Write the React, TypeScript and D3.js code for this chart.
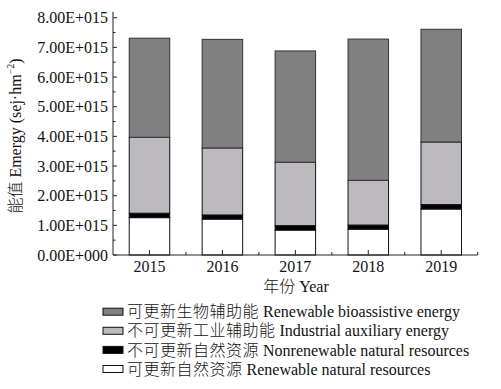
import React from "react";
import * as d3 from "d3";

// values in 1e15 sej/hm^2
const years = [2015, 2016, 2017, 2018, 2019];
const renewableNatural = [1.26, 1.21, 0.84, 0.87, 1.55];
const nonrenewableNatural = [0.15, 0.14, 0.15, 0.14, 0.15];
const industrialAux = [2.56, 2.26, 2.14, 1.51, 2.11];
const bioAssistive = [3.34, 3.66, 3.75, 4.76, 3.8];

const seriesKeys = ["rn", "nn", "ia", "ba"];
const seriesFill = ["#ffffff", "#000000", "#bcbabe", "#808080"];
const legendZh = ["可更新生物辅助能", "不可更新工业辅助能", "不可更新自然资源", "可更新自然资源"];
const legendEn = [
  "Renewable bioassistive energy",
  "Industrial auxiliary energy",
  "Nonrenewable natural resources",
  "Renewable natural resources",
];
const legendFill = ["#808080", "#bcbabe", "#000000", "#ffffff"];
const yTicks = d3.range(0, 8.01, 1);
const yMinor = d3.range(0.5, 8.1, 1);

const font = "'Liberation Serif', 'Times New Roman', 'Noto Sans CJK SC', serif";
const cjk = "'Noto Sans CJK SC', sans-serif";

export default function App() {
  const left = 113;
  const right = 477.7;
  const bottom = 255;

  const x = d3.scaleLinear().domain([2014.5, 2019.5]).range([left, right]);
  const y = d3.scaleLinear().domain([0, 8.2]).range([bottom, bottom - 8.2 * 29.66]);
  const barW = 40.5;

  const rows = years.map((yr, i) => ({
    year: yr,
    rn: renewableNatural[i],
    nn: nonrenewableNatural[i],
    ia: industrialAux[i],
    ba: bioAssistive[i],
  }));
  const stacked = d3.stack<any>().keys(seriesKeys)(rows);

  const fmt = (v: number) => (v === 0 ? "0.00E+000" : `${v.toFixed(2)}E+015`);
  const xMinor = d3.range(2015.5, 2019.6, 1);

  return (
    <svg
      width={501}
      height={389}
      style={{ position: "absolute", left: 0, top: 0, background: "#fff" }}
      fontFamily={font}
    >
      {/* bars */}
      {stacked.map((s, si) => (
        <g key={s.key}>
          {s.map((d, i) => (
            <rect
              key={i}
              x={x(years[i]) - barW / 2}
              y={y(d[1])}
              width={barW}
              height={y(d[0]) - y(d[1])}
              fill={seriesFill[si]}
              stroke={si === 3 ? "#333" : "#111"}
              strokeWidth={1}
            />
          ))}
        </g>
      ))}

      {/* axes */}
      <line x1={left} x2={left} y1={y(8.2)} y2={bottom} stroke="#222" strokeWidth={1} />
      <line x1={left} x2={right} y1={bottom} y2={bottom} stroke="#222" strokeWidth={1} />
      {yTicks.map((t) => (
        <g key={t}>
          <line x1={left} x2={left + 4} y1={y(t)} y2={y(t)} stroke="#222" />
          <text x={left - 5} y={y(t)} dy="0.35em" textAnchor="end" fontSize={16} fill="#111">
            {fmt(t)}
          </text>
        </g>
      ))}
      {yMinor.map((t) => (
        <line key={t} x1={left} x2={left + 2.5} y1={y(t)} y2={y(t)} stroke="#222" />
      ))}
      {years.map((yr) => (
        <g key={yr}>
          <line x1={x(yr)} x2={x(yr)} y1={bottom} y2={bottom - 5} stroke="#222" />
          <text x={x(yr)} y={bottom + 17} textAnchor="middle" fontSize={16} fill="#111">
            {yr}
          </text>
        </g>
      ))}
      {xMinor.map((t) => (
        <line key={t} x1={x(t)} x2={x(t)} y1={bottom} y2={bottom - 3} stroke="#222" />
      ))}

      {/* axis titles */}
      <text x={296} y={292} textAnchor="middle" fontSize={16} fill="#111">
        <tspan fontFamily={cjk} fontWeight={300}>年份</tspan> Year
      </text>
      <text
        transform={`translate(21,136) rotate(-90)`}
        textAnchor="middle"
        fontSize={16}
        fill="#111"
      >
        <tspan fontFamily={cjk} fontWeight={300}>能值</tspan> Emergy (sej·hm
        <tspan fontSize={10} dy={-7}>−2</tspan>
        <tspan dy={7}>)</tspan>
      </text>

      {/* legend */}
      {legendZh.map((zh, i) => {
        const cy = 311.7 + i * 19.1;
        return (
          <g key={zh}>
            <rect x={103} y={cy - 3.5} width={20} height={7} fill={legendFill[i]} stroke="#111" />
            <text x={127} y={cy} dy="0.35em" fontSize={16} fill="#111">
              <tspan fontFamily={cjk} fontWeight={300} letterSpacing={0.5}>{zh}</tspan> {legendEn[i]}
            </text>
          </g>
        );
      })}
    </svg>
  );
}
